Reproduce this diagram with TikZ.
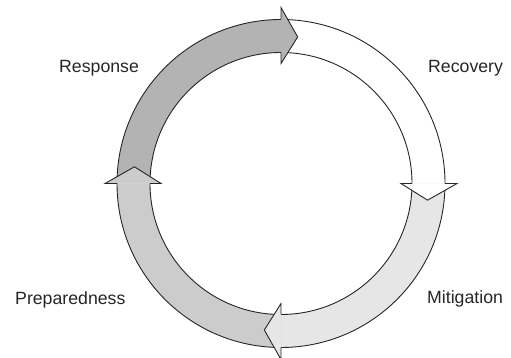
\documentclass[tikz,border=0pt]{standalone}
\usepackage{fontspec}
\setmainfont{Liberation Sans}
\definecolor{respcol}{HTML}{B3B3B3}
\definecolor{reccol}{HTML}{FFFFFF}
\definecolor{mitcol}{HTML}{E6E6E6}
\definecolor{prepcol}{HTML}{CCCCCC}
\newcommand{\ringbody}[3]{%
  \fill[#3] (#1:164) arc[start angle=#1, end angle=#2, radius=164pt]
     -- (#2:131) arc[start angle=#2, end angle=#1, radius=131pt] -- cycle;
  \draw[outline] (#1:164) arc[start angle=#1, end angle=#2, radius=164pt];
  \draw[outline] (#1:131) arc[start angle=#1, end angle=#2, radius=131pt];
}
\newcommand{\ringhead}[2]{%
  \fill[#2] (#1:120) -- ({#1-6.5}:147.5) -- (#1:176) -- cycle;
  \draw[outline,line join=miter] (#1:164) -- (#1:176) -- ({#1-6.5}:147.5) -- (#1:120) -- (#1:131);
}
\begin{document}
\begin{tikzpicture}[x=1pt,y=1pt,
  outline/.style={draw=black!85,line width=0.9pt},
  lbl/.style={anchor=base west,inner sep=0pt,font=\fontsize{17.7}{20}\selectfont,text=black!85}]
\useasboundingbox (0,0) rectangle (511,358);
\begin{scope}[shift={(281,174.5)}]
  \ringbody{180}{90}{respcol}
  \ringbody{90}{0}{reccol}
  \ringbody{0}{-90}{mitcol}
  \ringbody{-90}{-180}{prepcol}
  \ringhead{90}{respcol}
  \ringhead{0}{reccol}
  \ringhead{-90}{mitcol}
  \ringhead{-180}{prepcol}
\end{scope}
\node[lbl] (response) at (59,285) {Response};
\node[lbl] (recovery) at (428,285) {Recovery};
\node[lbl] (preparedness) at (15,53) {Preparedness};
\node[lbl] (mitigation) at (427,54) {Mitigation};
\end{tikzpicture}
\end{document}
